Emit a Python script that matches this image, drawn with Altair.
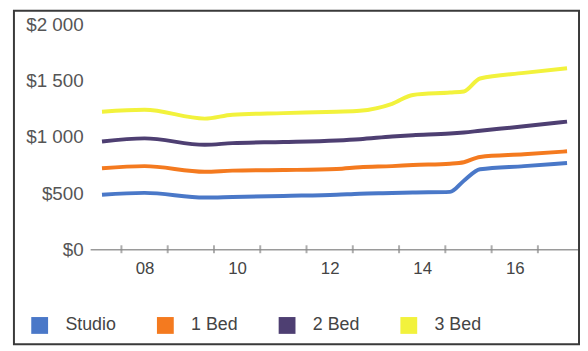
import altair as alt
import pandas as pd

# ---- data ----
years = [2007.08, 2008.0, 2009.3, 2009.9, 2011.0, 2012.15, 2012.65, 2013.35,
         2013.8, 2014.6, 2014.9, 2015.25, 2016.2, 2017.13]
series = ["Studio", "1 Bed", "2 Bed", "3 Bed"]
studio = [485, 502, 460, 465, 475, 485, 495, 500, 505, 511, 610, 712, 740, 768]
one_bed = [722, 740, 690, 700, 705, 714, 730, 740, 750, 762, 775, 822, 845, 872]
two_bed = [960, 987, 930, 945, 955, 969, 980, 1004, 1015, 1030, 1040, 1055, 1095, 1136]
three_bed = [1225, 1242, 1163, 1198, 1212, 1225, 1233, 1295, 1374, 1395, 1405, 1520, 1570, 1612]
colors = ["#4a78c8", "#f47a1f", "#4e3f72", "#f2f23c"]
y_ticks = [0, 500, 1000, 1500, 2000]
x_labels = [2008, 2010, 2012, 2014, 2016]
x_ticks = [2007.5, 2008.5, 2009.5, 2010.5, 2011.5, 2012.5, 2013.5, 2014.5, 2015.5, 2016.5]

rows = []
for name, vals in zip(series, [studio, one_bed, two_bed, three_bed]):
    for yr, v in zip(years, vals):
        rows.append({"year": yr, "rent": v, "type": name})
df = pd.DataFrame(rows)

FONT = "Liberation Sans"
x_scale = alt.Scale(domain=[2006.824, 2017.41], nice=False, zero=False)
y_scale = alt.Scale(domain=[0, 2000], nice=False)

x_axis = alt.Axis(values=x_labels,
                  labelExpr="substring(toString(datum.value), 2, 4)",
                  title=None, ticks=False, grid=False,
                  domainColor="#9a9a9a", domainWidth=1.5,
                  labelFontSize=17, labelColor="#444444",
                  labelPadding=12, labelFont=FONT)

lines = alt.Chart(df).mark_line(strokeWidth=4, interpolate="monotone").encode(
    x=alt.X("year:Q", scale=x_scale, axis=x_axis),
    y=alt.Y("rent:Q", scale=y_scale,
            axis=alt.Axis(values=y_ticks,
                          labelExpr="'$' + replace(format(datum.value, ','), ',', ' ')",
                          title=None, ticks=False, domain=False, grid=False,
                          labelFontSize=19, labelPadding=7, labelColor="#555555",
                          labelFont=FONT)),
    color=alt.Color("type:N", sort=series,
                    scale=alt.Scale(domain=series, range=colors),
                    legend=alt.Legend(orient="none", legendX=-60, legendY=295,
                                      direction="horizontal", columns=4,
                                      symbolType="square", symbolSize=64,
                                      symbolStrokeWidth=9, symbolOpacity=1,
                                      labelFontSize=18, labelColor="#444444",
                                      labelFont=FONT, columnPadding=27,
                                      labelOffset=17, title=None)),
)

ticks = alt.Chart(pd.DataFrame({"year": x_ticks})).mark_tick(
    orient="vertical", size=8, thickness=2, color="#8a8a8a"
).encode(
    x=alt.X("year:Q", scale=x_scale, axis=x_axis),
    y=alt.datum(0),
)

frame = alt.Chart(alt.Data(values=[{}])).mark_rect(
    fill="transparent", stroke="#3a3a3a", strokeWidth=2
).encode(
    x=alt.value(-77), x2=alt.value(494), y=alt.value(-14), y2=alt.value(323)
)

chart = alt.layer(lines, ticks, frame).properties(
    width=495, height=227,
    autosize=alt.AutoSizeParams(type="none"),
    padding={"left": 83, "top": 15, "right": 0, "bottom": 98},
).configure_view(stroke=None)

chart.save("out.html", embed_options={"renderer": "svg", "actions": False})
